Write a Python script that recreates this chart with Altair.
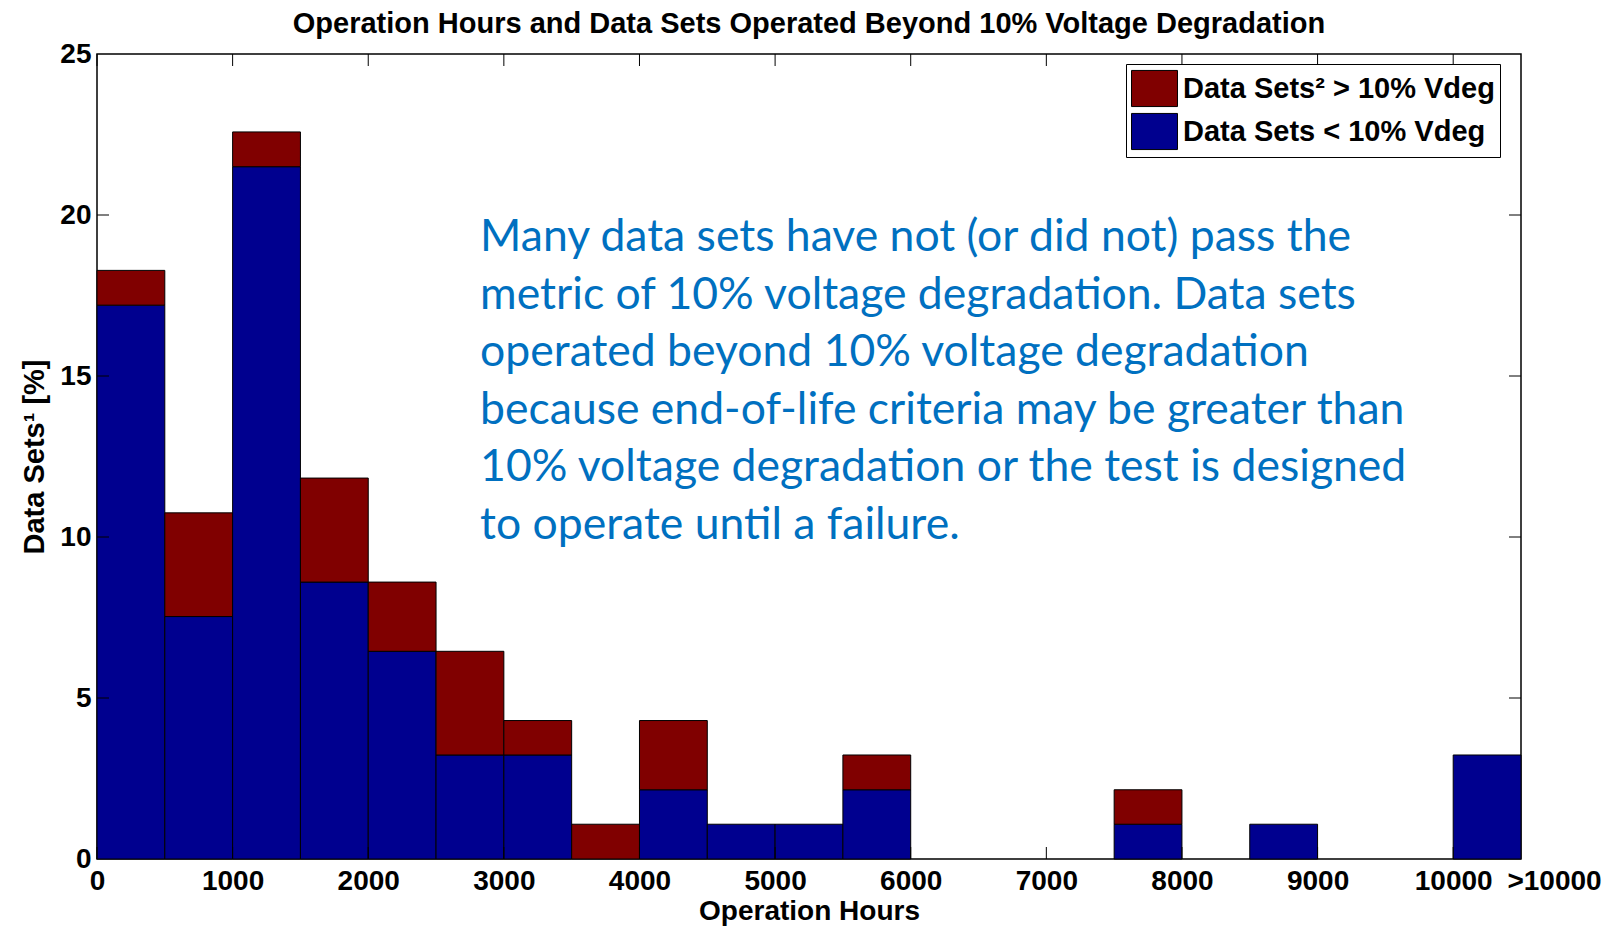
import altair as alt
import pandas as pd

# ---- data ----
bin_start = [0, 500, 1000, 1500, 2000, 2500, 3000, 3500, 4000, 4500, 5000,
             5500, 6000, 6500, 7000, 7500, 8000, 8500, 9000, 9500, 10000]
bin_width = 500
below_10 = [17.2, 7.53, 21.5, 8.6, 6.45, 3.23, 3.23, 0.0, 2.15, 1.08, 1.08,
            2.15, 0.0, 0.0, 0.0, 1.08, 0.0, 1.08, 0.0, 0.0, 3.23]
total = [18.28, 10.75, 22.58, 11.83, 8.6, 6.45, 4.3, 1.08, 4.3, 1.08, 1.08,
         3.23, 0.0, 0.0, 0.0, 2.15, 0.0, 1.08, 0.0, 0.0, 3.23]
series_names = ["Data Sets\u00b2 > 10% Vdeg", "Data Sets < 10% Vdeg"]
series_colors = ["#800000", "#00008F"]
x_tick_values = [0, 1000, 2000, 3000, 4000, 5000, 6000, 7000, 8000, 9000, 10000, 10500]
y_tick_values = [0, 5, 10, 15, 20, 25]
note_lines = [
    "Many data sets have not (or did not) pass the",
    "metric of 10% voltage degradation. Data sets",
    "operated beyond 10% voltage degradation",
    "because end-of-life criteria may be greater than",
    "10% voltage degradation or the test is designed",
    "to operate until a failure.",
]

rows = []
for s, b, t in zip(bin_start, below_10, total):
    if b > 0:
        rows.append({"start": s, "end": s + bin_width, "y0": 0, "y1": b, "series": series_names[1]})
    if t > b:
        rows.append({"start": s, "end": s + bin_width, "y0": b, "y1": t, "series": series_names[0]})
df = pd.DataFrame(rows)

W, H = 1424, 805
FONT = "Liberation Sans"
TICK = 12

xscale = alt.Scale(domain=[0, 10500], nice=False, zero=False)
yscale = alt.Scale(domain=[0, 25], nice=False)

x_axis = alt.Axis(
    values=x_tick_values, format="d", title="Operation Hours",
    labelExpr="datum.value == 10500 ? '>10000' : datum.label",
    labelOffset={"condition": {"test": "datum.value == 10500", "value": 33}, "value": 0},
    ticks=False, grid=False, domain=False, labelFlush=False,
    labelFont=FONT, labelFontSize=28, labelFontWeight="bold", labelColor="black",
    labelPadding=8, titleFont=FONT, titleFontSize=28, titleFontWeight="bold",
    titleColor="black", titlePadding=2,
)
y_axis = alt.Axis(
    values=y_tick_values, title="Data Sets\u00b9 [%]",
    ticks=False, grid=False, domain=False, labelFlush=False,
    labelFont=FONT, labelFontSize=28, labelFontWeight="bold", labelColor="black",
    labelPadding=6, titleFont=FONT, titleFontSize=29, titleFontWeight="bold",
    titleColor="black", titlePadding=10,
)

bars = alt.Chart(df).mark_rect(stroke="black", strokeWidth=1).encode(
    x=alt.X("start:Q", scale=xscale, axis=x_axis),
    x2="end:Q",
    y=alt.Y("y0:Q", scale=yscale, axis=y_axis),
    y2="y1:Q",
    color=alt.Color(
        "series:N",
        scale=alt.Scale(domain=series_names, range=series_colors),
        legend=alt.Legend(
            title=None, orient="none", legendX=1029, legendY=10,
            strokeColor="black", fillColor="white", padding=5,
            symbolType="M-1.21,-0.95H1.21V0.95H-1.21Z", symbolSize=1444,
            symbolStrokeColor="black", symbolStrokeWidth=1, symbolOpacity=1,
            symbolOffset=4,
            labelFont=FONT, labelFontSize=29, labelFontWeight="bold",
            labelColor="black", labelLimit=500, rowPadding=2, labelOffset=9,
        ),
    ),
)

xt = pd.DataFrame({"v": x_tick_values[:-1]})
yt = pd.DataFrame({"v": y_tick_values[1:-1]})

bottom_ticks = alt.Chart(xt).mark_rule(color="black", strokeWidth=1).encode(
    x=alt.X("v:Q", scale=xscale), y=alt.value(H), y2=alt.value(H - TICK))
top_ticks = alt.Chart(xt).mark_rule(color="black", strokeWidth=1).encode(
    x=alt.X("v:Q", scale=xscale), y=alt.value(0), y2=alt.value(TICK))
left_ticks = alt.Chart(yt).mark_rule(color="black", strokeWidth=1).encode(
    y=alt.Y("v:Q", scale=yscale), x=alt.value(0), x2=alt.value(TICK))
right_ticks = alt.Chart(yt).mark_rule(color="black", strokeWidth=1).encode(
    y=alt.Y("v:Q", scale=yscale), x=alt.value(W), x2=alt.value(W - TICK))

note = alt.Chart(pd.DataFrame({"x": [2825], "y": [18.87], "t": [note_lines]})).mark_text(
    align="left", baseline="alphabetic", font="Lato", fontSize=44.5,
    lineHeight=57.5, color="#0070C0",
).encode(x=alt.X("x:Q", scale=xscale), y=alt.Y("y:Q", scale=yscale), text="t")

chart = alt.layer(bars, bottom_ticks, top_ticks, left_ticks, right_ticks, note).properties(
    width=W, height=H,
    title=alt.TitleParams(
        "Operation Hours and Data Sets Operated Beyond 10% Voltage Degradation",
        font=FONT, fontSize=29, fontWeight="bold", color="black",
        anchor="middle", offset=1,
    ),
    autosize=alt.AutoSizeParams(type="none"),
    padding={"left": 89, "top": 46, "right": 87, "bottom": 70},
).configure_view(stroke="black", strokeWidth=1.5)

chart.save("out.html", embed_options={"renderer": "svg", "actions": False})
